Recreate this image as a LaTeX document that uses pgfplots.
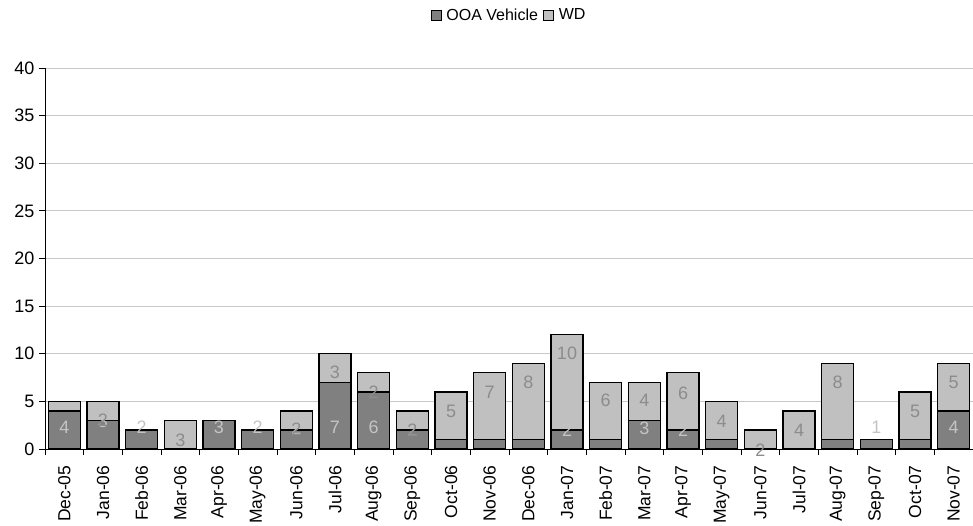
\documentclass[border=0pt]{standalone}
\usepackage{pgfplots}
\pgfplotsset{compat=1.18}
\usepackage{pgfplotstable}
\usepackage{fontspec}
\setmainfont{Liberation Sans}
\definecolor{ooa}{HTML}{808080}
\definecolor{wd}{HTML}{C0C0C0}
\definecolor{labooa}{HTML}{C4C4C4}
\definecolor{labwd}{HTML}{8C8C8C}
\definecolor{gridc}{HTML}{C8C8C8}

\pgfplotstableread{
x ooa wd
0 4 1
1 3 2
2 2 0
3 0 3
4 3 0
5 2 0
6 2 2
7 7 3
8 6 2
9 2 2
10 1 5
11 1 7
12 1 8
13 2 10
14 1 6
15 3 4
16 2 6
17 1 4
18 0 2
19 0 4
20 1 8
21 1 0
22 1 5
23 4 5
}\datatable

\pgfplotstableread{
x y lab
0 2.3 4
1 2.9 3
2 2.3 2
4 2.3 3
5 2.3 2
6 2.2 2
7 2.3 7
8 2.3 6
9 2.0 2
13 2.0 2
15 2.2 3
16 2.0 2
21 2.3 1
23 2.3 4
}\labooatable

\pgfplotstableread{
x y lab
1 3.0 2
3 0.9 3
6 2.1 2
7 8.1 3
8 6.0 2
9 2.0 2
10 3.9 5
11 6.0 7
12 7.0 8
13 10.0 10
14 5.1 6
15 5.1 4
16 5.9 6
17 2.9 4
18 -0.1 2
19 2.0 4
20 7.0 8
22 3.9 5
23 7.0 5
}\labwdtable

\pgfplotsset{
  common/.style={
    width=928pt, height=381pt, scale only axis,
    xmin=-0.5, xmax=23.5, ymin=0, ymax=40,
    clip=false,
  }
}

\begin{document}
\begin{tikzpicture}
\begin{axis}[
  common,
  ybar stacked,
  bar width=32pt,
  axis x line=bottom, axis y line=left,
  axis line style={-, black, line width=0.9pt},
  ytick={0,5,...,40},
  ymajorgrids, grid style={gridc, line width=0.8pt},
  xtick={0,...,23},
  xticklabels={Dec-05,Jan-06,Feb-06,Mar-06,Apr-06,May-06,Jun-06,Jul-06,Aug-06,Sep-06,Oct-06,Nov-06,Dec-06,Jan-07,Feb-07,Mar-07,Apr-07,May-07,Jun-07,Jul-07,Aug-07,Sep-07,Oct-07,Nov-07},
  x tick label style={rotate=90, anchor=east, xshift=-7pt, font=\fontsize{17.5}{19}\selectfont},
  xtick style={draw=none},
  extra x ticks={-0.5,0.5,...,23.5},
  extra x tick labels={},
  extra x tick style={xtick style={draw=black, line width=0.9pt}, major tick length=6pt, tick align=outside, grid=none},
  ytick style={black, line width=0.9pt},
  tick align=outside,
  major tick length=6pt,
  y tick label style={xshift=-1pt, font=\fontsize{18}{20}\selectfont},
  /pgf/number format/assume math mode=true,
  legend style={at={(0.5,1.139)}, anchor=center, draw=none, legend columns=-1,
    font=\fontsize{16}{18}\selectfont,
    /tikz/every odd column/.append style={column sep=3pt},
    /tikz/every even column/.append style={column sep=3pt}},
  legend image code/.code={\draw[#1, draw=black, line width=0.8pt] (0cm,-5pt) rectangle (10pt,5pt);},
]
\addplot[fill=ooa, draw=black, line width=1.3pt] table[x=x, y=ooa] {\datatable};
\addplot[fill=wd, draw=black, line width=1.3pt] table[x=x, y=wd] {\datatable};
\legend{OOA Vehicle, WD}
\end{axis}
\begin{axis}[
  common, hide axis,
  nodes near coords,
  point meta=explicit symbolic,
  nodes near coords style={anchor=center, font=\fontsize{18}{20}\selectfont},
]
\addplot[only marks, mark=none, nodes near coords style={text=labooa}] table[x=x, y=y, meta=lab] {\labooatable};
\addplot[only marks, mark=none, nodes near coords style={text=labwd}] table[x=x, y=y, meta=lab] {\labwdtable};
\end{axis}
\pgfresetboundingbox
\path (-45pt,-76pt) rectangle (928pt,449pt);
\end{tikzpicture}
\end{document}
